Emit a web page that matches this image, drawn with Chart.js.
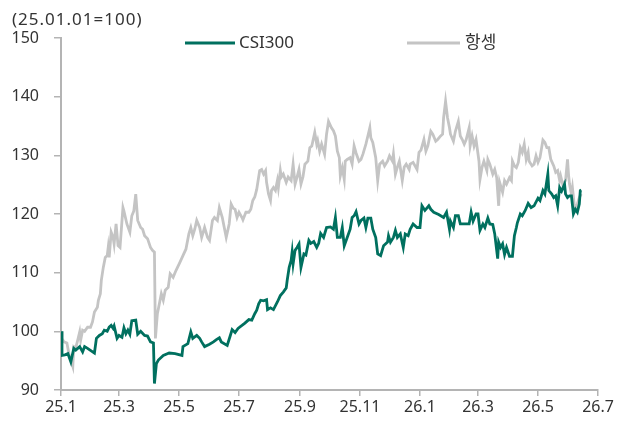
<!DOCTYPE html>
<html>
<head>
<meta charset="utf-8">
<script src="https://cdn.jsdelivr.net/npm/chart.js@4.4.1/dist/chart.umd.min.js"></script>
<style>
  html, body { margin: 0; padding: 0; background: #fff; }
  #wrap { width: 619px; height: 421px; }
</style>
</head>
<body>
<div id="wrap"><canvas id="chart" width="619" height="421"></canvas></div>
<script>
// Index, 2025-01-01 = 100. x values are days since 2025-01-01
const tickDays = [0, 59, 120, 181, 243, 304, 365, 424, 485, 546];
const tickLabels = ['25.1', '25.3', '25.5', '25.7', '25.9', '25.11', '26.1', '26.3', '26.5', '26.7'];

const csiDays = [0, 1, 4, 7, 10, 13, 15, 19, 22, 24, 27, 34, 36, 39, 42, 44, 47, 49, 51, 53, 54, 57, 59, 62, 64, 66, 68, 70, 72, 76, 78, 81, 85, 88, 91, 94, 95, 97, 99, 104, 110, 116, 123, 124, 129, 132, 134, 138, 141, 143, 146, 151, 155, 158, 161, 163, 169, 172, 174, 177, 180, 184, 187, 191, 194, 197, 199, 201, 203, 206, 209, 210, 213, 216, 220, 223, 226, 229, 230, 232, 234, 235, 236, 238, 240, 242, 244, 247, 249, 252, 254, 257, 260, 262, 264, 267, 270, 274, 277, 279, 281, 284, 286, 288, 291, 294, 296, 298, 300, 303, 305, 308, 310, 312, 315, 317, 320, 322, 325, 328, 332, 333, 335, 338, 340, 342, 345, 348, 350, 353, 355, 358, 362, 365, 367, 370, 372, 374, 376, 379, 384, 389, 392, 395, 396, 399, 401, 404, 406, 410, 415, 417, 419, 422, 424, 426, 429, 431, 434, 436, 439, 441, 444, 445, 447, 449, 451, 453, 456, 459, 461, 463, 464, 467, 469, 472, 475, 478, 481, 485, 487, 490, 492, 495, 496, 499, 501, 503, 505, 507, 509, 512, 513, 515, 517, 519, 521, 523, 525, 527, 528, 529];
const csiValues = [100, 95.9, 96.0, 96.2, 94.8, 97.1, 96.8, 97.4, 96.5, 97.4, 97.1, 96.3, 98.8, 99.3, 99.6, 100.2, 100.0, 100.7, 101.0, 100.5, 100.9, 98.8, 99.3, 99.0, 100.6, 99.6, 100.2, 99.5, 101.8, 101.9, 99.5, 100.0, 99.3, 99.2, 98.2, 98.0, 91.1, 94.5, 95.1, 95.9, 96.3, 96.2, 95.9, 97.4, 97.9, 99.9, 98.8, 99.3, 98.8, 98.2, 97.4, 97.8, 98.2, 98.6, 98.9, 98.2, 97.6, 99.2, 100.3, 99.8, 100.5, 101.0, 101.4, 102.0, 101.9, 103.0, 103.6, 104.7, 105.3, 105.2, 105.4, 103.7, 104.0, 103.7, 105.0, 106.1, 106.7, 107.4, 108.7, 110.9, 112.1, 113.5, 111.5, 113.8, 114.3, 114.9, 110.9, 113.2, 113.0, 115.5, 115.0, 115.3, 114.3, 115.0, 116.7, 116.0, 117.7, 117.8, 117.4, 119.4, 116.0, 116.0, 117.7, 114.6, 116.0, 117.4, 119.4, 119.7, 120.4, 118.3, 118.9, 119.3, 117.7, 119.3, 119.3, 117.4, 116.0, 113.2, 112.9, 114.6, 115.2, 116.3, 115.2, 116.0, 117.2, 116.0, 116.6, 114.3, 116.6, 116.3, 117.4, 118.3, 117.7, 117.7, 121.4, 120.6, 121.0, 121.4, 120.8, 120.3, 119.9, 119.4, 120.3, 117.4, 118.8, 117.7, 119.7, 119.7, 118.3, 118.3, 118.3, 120.3, 118.8, 120.0, 120.0, 117.2, 118.3, 117.7, 119.3, 118.3, 118.2, 116.6, 112.4, 115.2, 114.3, 114.9, 113.1, 114.3, 112.8, 112.8, 116.3, 117.7, 118.5, 120.0, 119.7, 120.6, 121.8, 121.1, 121.4, 122.7, 122.3, 124.0, 123.4, 126.8, 124.0, 123.4, 122.8, 123.1, 121.4, 124.5, 123.9, 125.1, 123.4, 122.8, 123.1, 123.1, 120.0, 120.8, 120.3, 121.7, 124.0, 124.1];

const hsDays = [0, 1, 3, 6, 8, 10, 12, 13, 15, 17, 19, 20, 22, 24, 27, 30, 32, 34, 37, 38, 40, 41, 43, 45, 47, 48, 49, 51, 53, 54, 56, 58, 60, 63, 64, 67, 70, 72, 74, 76, 78, 81, 83, 85, 88, 91, 93, 95, 96, 98, 100, 102, 104, 106, 109, 111, 114, 117, 121, 124, 127, 130, 132, 134, 136, 138, 141, 143, 146, 149, 151, 154, 156, 159, 161, 164, 166, 168, 171, 173, 175, 177, 179, 181, 184, 185, 188, 191, 193, 195, 197, 199, 202, 204, 206, 208, 209, 211, 213, 214, 216, 218, 220, 221, 223, 224, 226, 229, 231, 234, 236, 238, 240, 242, 244, 246, 248, 251, 253, 255, 258, 260, 261, 263, 265, 268, 270, 272, 275, 277, 279, 281, 283, 284, 286, 288, 289, 291, 294, 296, 298, 300, 303, 305, 307, 310, 312, 314, 315, 317, 320, 322, 324, 327, 329, 332, 334, 337, 338, 340, 342, 344, 347, 349, 351, 354, 355, 358, 362, 364, 366, 369, 371, 373, 376, 378, 381, 383, 386, 388, 389, 391, 393, 395, 396, 399, 401, 404, 406, 408, 410, 412, 415, 416, 418, 420, 422, 425, 426, 428, 430, 433, 434, 436, 439, 441, 443, 445, 446, 449, 451, 453, 456, 458, 459, 461, 463, 465, 467, 469, 471, 473, 475, 476, 479, 481, 483, 485, 487, 490, 492, 494, 496, 498, 501, 503, 505, 507, 508, 510, 513, 515, 516, 517, 519, 520, 522, 523, 525, 527, 529];
const hsValues = [100, 98.8, 98.2, 98.0, 96.2, 95.1, 94.0, 97.4, 97.2, 98.5, 99.9, 98.5, 100.2, 100.0, 100.7, 100.7, 101.6, 103.3, 104.1, 105.3, 106.4, 108.7, 110.9, 112.6, 112.9, 114.3, 112.6, 116.9, 116.0, 114.9, 118.3, 114.6, 114.3, 121.1, 120.5, 118.3, 116.9, 119.7, 120.5, 123.4, 118.9, 117.7, 117.4, 116.3, 115.8, 114.3, 113.8, 113.5, 98.8, 103.0, 104.7, 106.4, 105.3, 107.0, 107.5, 109.8, 109.2, 110.4, 111.8, 112.9, 114.0, 116.6, 117.7, 116.3, 117.4, 118.9, 117.7, 116.0, 117.7, 116.0, 115.5, 118.9, 119.4, 118.9, 121.1, 119.4, 117.7, 116.0, 118.3, 121.7, 121.0, 120.8, 119.4, 120.3, 119.4, 119.0, 120.3, 120.3, 120.8, 122.3, 122.9, 124.2, 127.4, 127.6, 126.8, 127.4, 125.4, 123.4, 122.3, 124.0, 124.5, 124.0, 125.7, 124.5, 127.4, 126.3, 126.8, 125.4, 126.3, 125.7, 128.5, 125.1, 126.3, 127.6, 125.1, 126.3, 128.5, 129.0, 131.3, 131.6, 133.9, 131.9, 132.5, 130.7, 131.9, 130.2, 133.6, 135.8, 134.7, 134.2, 133.3, 130.7, 129.6, 126.5, 127.9, 125.9, 129.0, 129.3, 129.6, 128.5, 131.6, 130.4, 129.0, 129.3, 130.2, 131.9, 133.3, 134.7, 133.0, 132.2, 129.6, 125.7, 128.5, 129.0, 128.2, 129.0, 129.9, 129.0, 130.2, 126.8, 128.0, 129.0, 125.7, 128.0, 128.5, 127.6, 128.5, 128.8, 127.6, 130.5, 130.9, 132.7, 130.7, 131.6, 134.1, 133.6, 132.4, 132.7, 133.3, 133.6, 136.4, 139.2, 136.4, 134.7, 133.6, 132.4, 134.1, 135.8, 133.3, 132.7, 131.9, 132.7, 134.7, 131.6, 133.3, 131.6, 132.7, 129.0, 125.9, 127.9, 129.0, 127.4, 129.3, 128.5, 126.8, 127.6, 126.2, 121.4, 125.4, 123.7, 125.7, 125.1, 126.2, 125.7, 129.0, 128.2, 127.9, 128.8, 131.3, 130.5, 131.9, 129.3, 130.5, 129.0, 128.2, 128.5, 129.9, 128.8, 129.6, 132.6, 132.2, 131.3, 131.3, 129.3, 128.2, 127.1, 127.4, 125.7, 126.5, 125.1, 125.7, 129.3, 126.8, 125.1, 123.4, 124.5, 121.4, 120.8, 121.7, 122.8, 123.4];

const seriesNames = ['CSI300', '항셍'];
const seriesColors = ['#00705f', '#c4c4c4'];

const FONT = '"Noto Sans", "Noto Sans CJK KR", sans-serif';
const TEXT_COLOR = '#333';
const AXIS_COLOR = '#b4b4b4';

function toPoints(days, values) {
  return days.map((d, i) => ({ x: d, y: values[i] }));
}

// legend and unit label drawn by hand so they sit where the reference has them
const overlayPlugin = {
  id: 'overlay',
  afterDraw(chart) {
    const ctx = chart.ctx;
    ctx.save();
    ctx.fillStyle = TEXT_COLOR;
    ctx.font = '17px ' + FONT;
    ctx.textBaseline = 'middle';
    ctx.textAlign = 'left';
    if ('letterSpacing' in ctx) ctx.letterSpacing = '1px';
    ctx.fillText('(25.01.01=100)', 12, 20);
    if ('letterSpacing' in ctx) ctx.letterSpacing = '0px';

    const legendPos = [[185, 235, 239], [407, 460, 465]];
    chart.data.datasets.forEach((ds, i) => {
      const [x0, x1, tx] = legendPos[i];
      ctx.strokeStyle = ds.borderColor;
      ctx.lineWidth = 3;
      ctx.beginPath();
      ctx.moveTo(x0, 43);
      ctx.lineTo(x1, 43);
      ctx.stroke();
      ctx.font = '17px ' + FONT;
      ctx.fillStyle = TEXT_COLOR;
      ctx.fillText(ds.label, tx, 43);
    });
    ctx.restore();
  }
};

new Chart(document.getElementById('chart').getContext('2d'), {
  type: 'line',
  data: {
    datasets: [
      {
        label: seriesNames[0],
        data: toPoints(csiDays, csiValues),
        borderColor: seriesColors[0],
        borderWidth: 2.8,
        pointRadius: 0,
        tension: 0
      },
      {
        label: seriesNames[1],
        data: toPoints(hsDays, hsValues),
        borderColor: seriesColors[1],
        borderWidth: 2.8,
        pointRadius: 0,
        tension: 0
      }
    ]
  },
  options: {
    responsive: false,
    animation: false,
    devicePixelRatio: 1,
    layout: { padding: { top: 38, right: 21, left: 0, bottom: 0 } },
    plugins: {
      legend: { display: false },
      tooltip: { enabled: false }
    },
    scales: {
      x: {
        type: 'linear',
        min: tickDays[0],
        max: tickDays[tickDays.length - 1],
        afterBuildTicks: function(scale) {
          scale.ticks = tickDays.map(v => ({ value: v }));
        },
        afterFit: function(scale) { scale.height = 31; },
        grid: { drawOnChartArea: false, drawTicks: true, tickLength: 6, color: AXIS_COLOR, lineWidth: 1.5 },
        border: { display: true, color: AXIS_COLOR, width: 2 },
        ticks: {
          autoSkip: false,
          maxRotation: 0,
          padding: 2,
          color: TEXT_COLOR,
          font: { family: FONT, size: 16 },
          callback: function(value) {
            const i = tickDays.indexOf(value);
            return i >= 0 ? tickLabels[i] : '';
          }
        }
      },
      y: {
        min: 90,
        max: 150,
        afterFit: function(scale) { scale.width = 61; },
        grid: { drawOnChartArea: false, drawTicks: true, tickLength: 7, color: AXIS_COLOR, lineWidth: 1.5 },
        border: { display: true, color: AXIS_COLOR, width: 2 },
        ticks: {
          stepSize: 10,
          padding: 15,
          color: TEXT_COLOR,
          font: { family: FONT, size: 16 }
        }
      }
    }
  },
  plugins: [overlayPlugin]
});
</script>
</body>
</html>
